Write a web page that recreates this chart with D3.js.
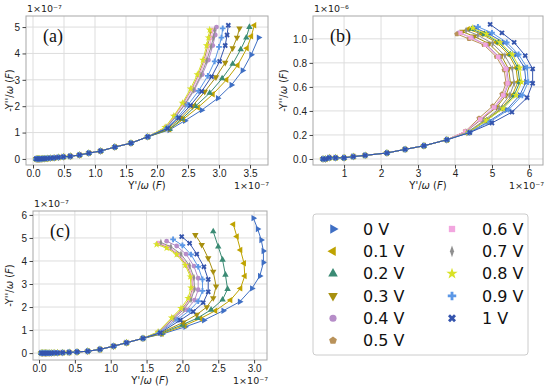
<!DOCTYPE html>
<meta charset="utf-8">
<style>
body { margin: 0; padding: 0; background: #fff; }
svg { font-family: "DejaVu Sans", sans-serif; }
.grid line { stroke: #dddddd; stroke-width: 1; }
.axis .domain { display: none; }
.axis line { stroke: #444; }
.axis text { font-size: 10px; fill: #222; }
.frame { fill: none; stroke: #a8a8a8; stroke-width: 1; }
.lbl { font-size: 10px; fill: #222; }
.off { font-size: 9.5px; fill: #222; }
.panel { font-family: "Liberation Serif", serif; font-size: 18px; fill: #111; }
.leg text { font-size: 16px; fill: #111; }
</style>
<svg width="550" height="390"></svg>
<script src="https://d3js.org/d3.v7.min.js"></script>
<script>

var voltages = ["0 V", "0.1 V", "0.2 V", "0.3 V", "0.4 V", "0.5 V", "0.6 V", "0.7 V", "0.8 V", "0.9 V", "1 V"];
var colors = ["#3f6fc4", "#bfa300", "#3b8b74", "#a8900f", "#b68dc8", "#b9925a", "#f2a6df", "#8f8f8f", "#d9e226", "#5b97e6", "#3454ad"];

// panel (a): x in 1e-7 F, y in 1e-7 F
var ticksAx = [0, 0.5, 1, 1.5, 2, 2.5, 3, 3.5];
var ticksAy = [0, 1, 2, 3, 4, 5];
var lowA = [[0.05,0],[0.07,0],[0.09,0],[0.11,0],[0.13,0],[0.16,0.01],[0.19,0.01],[0.23,0.02],[0.28,0.03],[0.34,0.04],[0.41,0.06],[0.49,0.08],[0.6,0.1],[0.75,0.15],[0.9,0.22],[1.09,0.3],[1.32,0.45],[1.58,0.6],[1.85,0.84]];
var hiA = [
  [[2.2,1.1],[2.45,1.45],[2.72,1.85],[2.98,2.3],[3.2,2.8],[3.38,3.35],[3.52,3.95],[3.64,4.6]],
  [[2.2,1.12],[2.42,1.5],[2.66,1.95],[2.9,2.45],[3.12,3.0],[3.3,3.55],[3.45,4.2],[3.52,4.65],[3.57,5.07]],
  [[2.2,1.13],[2.4,1.52],[2.62,2.0],[2.85,2.5],[3.05,3.05],[3.22,3.6],[3.35,4.15],[3.44,4.6],[3.49,5.0]],
  [[2.18,1.15],[2.38,1.55],[2.57,2.0],[2.77,2.55],[2.95,3.1],[3.1,3.65],[3.22,4.2],[3.29,4.6],[3.33,4.95]],
  [[2.15,1.18],[2.3,1.6],[2.45,2.05],[2.6,2.6],[2.73,3.2],[2.83,3.75],[2.9,4.3],[2.94,4.7],[2.96,5.0]],
  [[2.14,1.2],[2.28,1.62],[2.42,2.1],[2.56,2.65],[2.67,3.2],[2.76,3.75],[2.82,4.3],[2.85,4.6],[2.87,4.85]],
  [[2.14,1.2],[2.28,1.62],[2.43,2.1],[2.57,2.65],[2.69,3.2],[2.78,3.75],[2.85,4.3],[2.88,4.6],[2.9,4.9]],
  [[2.15,1.19],[2.3,1.6],[2.45,2.08],[2.59,2.62],[2.71,3.18],[2.8,3.72],[2.87,4.25],[2.91,4.6],[2.93,4.88]],
  [[2.13,1.2],[2.27,1.63],[2.41,2.12],[2.54,2.66],[2.65,3.2],[2.74,3.75],[2.8,4.3],[2.83,4.6],[2.85,4.9]],
  [[2.16,1.17],[2.33,1.58],[2.5,2.05],[2.67,2.58],[2.82,3.15],[2.93,3.7],[3.0,4.25],[3.04,4.6],[3.06,4.95]],
  [[2.17,1.16],[2.35,1.56],[2.54,2.03],[2.72,2.56],[2.88,3.12],[3.01,3.7],[3.1,4.3],[3.13,4.7],[3.15,5.07]]
];

// panel (b): x in 1e-7 F, y in 1e-6 F
var ticksBx = [1, 2, 3, 4, 5, 6];
var ticksBy = [0, 0.2, 0.4, 0.6, 0.8, 1.0];
var lowB = [[0.43,0],[0.5,0],[0.6,0.01],[0.77,0.01],[1.0,0.01],[1.25,0.02],[1.57,0.03],[2.16,0.05],[2.65,0.08],[3.16,0.11],[3.78,0.16]];
var hiB = [
  [[4.38,0.22],[4.9,0.31],[5.4,0.41],[5.75,0.53],[5.92,0.64],[5.88,0.76],[5.65,0.87],[5.32,0.97],[4.92,1.04],[4.55,1.09]],
  [[4.35,0.22],[4.82,0.32],[5.25,0.42],[5.55,0.53],[5.7,0.64],[5.65,0.76],[5.45,0.87],[5.12,0.97],[4.72,1.04],[4.35,1.08]],
  [[4.35,0.22],[4.85,0.32],[5.28,0.42],[5.6,0.53],[5.75,0.64],[5.7,0.76],[5.5,0.87],[5.18,0.97],[4.8,1.04],[4.45,1.08]],
  [[4.3,0.23],[4.72,0.33],[5.12,0.43],[5.38,0.53],[5.5,0.63],[5.45,0.75],[5.25,0.86],[4.92,0.96],[4.52,1.02],[4.2,1.06]],
  [[4.3,0.23],[4.7,0.33],[5.08,0.43],[5.33,0.53],[5.45,0.63],[5.4,0.75],[5.2,0.85],[4.85,0.95],[4.45,1.01],[4.1,1.05]],
  [[4.28,0.23],[4.65,0.34],[5.02,0.44],[5.27,0.54],[5.38,0.63],[5.33,0.74],[5.12,0.85],[4.78,0.95],[4.38,1.0],[4.05,1.04]],
  [[4.28,0.23],[4.68,0.33],[5.05,0.43],[5.3,0.53],[5.42,0.63],[5.37,0.75],[5.16,0.85],[4.82,0.95],[4.42,1.01],[4.15,1.05]],
  [[4.32,0.22],[4.78,0.32],[5.2,0.42],[5.48,0.53],[5.6,0.63],[5.55,0.75],[5.35,0.86],[5.02,0.96],[4.62,1.03],[4.3,1.07]],
  [[4.36,0.22],[4.85,0.32],[5.3,0.42],[5.65,0.53],[5.8,0.64],[5.75,0.76],[5.55,0.87],[5.22,0.97],[4.85,1.04],[4.48,1.09]],
  [[4.39,0.22],[4.95,0.31],[5.45,0.41],[5.82,0.53],[5.98,0.64],[5.95,0.76],[5.72,0.87],[5.4,0.97],[5.0,1.05],[4.62,1.1]],
  [[4.4,0.22],[5.0,0.3],[5.54,0.39],[5.95,0.51],[6.1,0.63],[6.1,0.75],[5.9,0.86],[5.6,0.97],[5.27,1.05],[4.95,1.12]]
];

// panel (c): x in 1e-7 F, y in 1e-7 F
var ticksCx = [0, 0.5, 1, 1.5, 2, 2.5, 3];
var ticksCy = [0, 1, 2, 3, 4, 5, 6];
var lowC = [[0.03,0],[0.05,0],[0.07,0],[0.09,0],[0.11,0],[0.14,0],[0.17,0],[0.21,0.01],[0.26,0.01],[0.33,0.02],[0.42,0.03],[0.53,0.05],[0.68,0.08],[0.85,0.16],[1.04,0.3],[1.22,0.45],[1.45,0.64]];
var hiC = [
  [[1.72,0.83],[2.04,1.14],[2.3,1.43],[2.57,1.84],[2.8,2.23],[2.97,2.81],[3.08,3.35],[3.13,3.93],[3.13,4.43],[3.1,4.91],[3.05,5.39],[2.99,5.86]],
  [[1.71,0.84],[2.03,1.2],[2.25,1.5],[2.46,1.84],[2.67,2.3],[2.81,2.81],[2.87,3.35],[2.86,3.9],[2.81,4.48],[2.76,5.06],[2.71,5.59]],
  [[1.7,0.86],[2.0,1.23],[2.21,1.52],[2.4,1.88],[2.56,2.32],[2.63,2.78],[2.6,3.4],[2.56,4.05],[2.5,4.62],[2.43,5.28]],
  [[1.69,0.87],[2.01,1.33],[2.2,1.67],[2.34,2.0],[2.43,2.39],[2.47,2.9],[2.43,3.54],[2.36,4.12],[2.27,4.7],[2.18,5.13]],
  [[1.68,0.9],[1.9,1.47],[2.06,1.88],[2.17,2.3],[2.22,2.75],[2.22,3.25],[2.16,3.78],[2.05,4.3],[1.92,4.65],[1.78,4.86]],
  [[1.66,0.91],[1.86,1.52],[2.0,1.93],[2.1,2.36],[2.14,2.82],[2.13,3.3],[2.06,3.8],[1.94,4.28],[1.8,4.58],[1.66,4.76]],
  [[1.67,0.9],[1.87,1.5],[2.01,1.92],[2.11,2.35],[2.15,2.8],[2.14,3.3],[2.08,3.8],[1.96,4.28],[1.82,4.6],[1.68,4.78]],
  [[1.67,0.9],[1.88,1.5],[2.02,1.9],[2.12,2.32],[2.17,2.78],[2.16,3.28],[2.1,3.8],[1.98,4.3],[1.84,4.62],[1.7,4.8]],
  [[1.66,0.92],[1.85,1.53],[1.98,1.95],[2.08,2.38],[2.12,2.84],[2.11,3.32],[2.04,3.82],[1.92,4.28],[1.78,4.56],[1.64,4.72]],
  [[1.68,0.89],[1.93,1.45],[2.1,1.85],[2.22,2.25],[2.28,2.7],[2.28,3.2],[2.22,3.75],[2.12,4.28],[2.0,4.68],[1.87,4.94]],
  [[1.69,0.88],[1.97,1.43],[2.15,1.8],[2.29,2.19],[2.36,2.66],[2.36,3.2],[2.3,3.75],[2.2,4.3],[2.1,4.77],[1.99,5.06]]
];

var svg = d3.select("svg");

var pentagon = {
  draw: function(ctx, size) {
    var r = Math.sqrt(size / 2.378);
    for (var i = 0; i < 5; i++) {
      var a = -Math.PI / 2 + i * 2 * Math.PI / 5;
      if (i === 0) ctx.moveTo(r * Math.cos(a), r * Math.sin(a));
      else ctx.lineTo(r * Math.cos(a), r * Math.sin(a));
    }
    ctx.closePath();
  }
};

var shapes = [
  {type: d3.symbolTriangle, rot: 90},
  {type: d3.symbolTriangle, rot: -90},
  {type: d3.symbolTriangle, rot: 0},
  {type: d3.symbolTriangle, rot: 180},
  {type: d3.symbolCircle, rot: 0},
  {type: pentagon, rot: 0},
  {type: d3.symbolSquare, rot: 0},
  {type: d3.symbolDiamond, rot: 0, sx: 0.6},
  {type: d3.symbolStar, rot: 0},
  {type: d3.symbolCross, rot: 0},
  {type: d3.symbolCross, rot: 45}
];

function marker(i, size) {
  return d3.symbol().type(shapes[i].type).size(size)();
}
function markerT(i, x, y) {
  var s = shapes[i];
  return "translate(" + x + "," + y + ") rotate(" + (s.rot || 0) + ") scale(" + (s.sx || 1) + ",1)";
}

function axisLabel(g, text, attrs) {
  var t = g.append("text").attr("class", "lbl").attr("text-anchor", "middle");
  for (var k in attrs) t.attr(k, attrs[k]);
  t.append("tspan").text(text);
  t.append("tspan").attr("font-style", "italic").text("ω");
  t.append("tspan").text(" (");
  t.append("tspan").attr("font-style", "italic").text("F");
  t.append("tspan").text(")");
}

function drawPanel(p) {
  var x = d3.scaleLinear().domain(p.xd).range([p.left, p.right]);
  var y = d3.scaleLinear().domain(p.yd).range([p.bottom, p.top]);
  var g = svg.append("g");

  g.append("g").attr("class", "grid")
    .selectAll("line").data(p.xt).enter().append("line")
      .attr("x1", function(d) { return x(d); }).attr("x2", function(d) { return x(d); })
      .attr("y1", p.top).attr("y2", p.bottom);
  g.append("g").attr("class", "grid")
    .selectAll("line").data(p.yt).enter().append("line")
      .attr("y1", function(d) { return y(d); }).attr("y2", function(d) { return y(d); })
      .attr("x1", p.left).attr("x2", p.right);

  var line = d3.line()
    .x(function(d) { return x(d[0]); })
    .y(function(d) { return y(d[1]); });

  p.hi.forEach(function(h, i) {
    var pts = p.low.concat(h);
    var s = g.append("g");
    s.append("path")
      .attr("d", line(pts))
      .attr("fill", "none")
      .attr("stroke", colors[i])
      .attr("stroke-width", 1);
    s.selectAll("path.m").data(pts).enter().append("path")
      .attr("class", "m")
      .attr("d", marker(i, 18))
      .attr("transform", function(d) { return markerT(i, x(d[0]), y(d[1])); })
      .attr("fill", colors[i]);
  });

  g.append("rect").attr("class", "frame")
    .attr("x", p.left).attr("y", p.top)
    .attr("width", p.right - p.left).attr("height", p.bottom - p.top);

  g.append("g").attr("class", "axis")
    .attr("transform", "translate(0," + p.bottom + ")")
    .call(d3.axisBottom(x).tickValues(p.xt).tickSize(3.5).tickPadding(1.5).tickFormat(d3.format(p.xf)));
  g.append("g").attr("class", "axis")
    .attr("transform", "translate(" + p.left + ",0)")
    .call(d3.axisLeft(y).tickValues(p.yt).tickSize(3.5).tickPadding(2.5).tickFormat(d3.format(p.yf)));

  axisLabel(g, "Y'/", {x: (p.left + p.right) / 2, y: p.bottom + 24});
  axisLabel(g, "-Y''/", {transform: "translate(" + p.ylx + "," + (p.top + p.bottom) / 2 + ") rotate(-90)"});

  // offset texts
  g.append("text").attr("class", "off")
    .attr("x", p.left + 1).attr("y", p.top - 4)
    .text(p.yoff);
  g.append("text").attr("class", "off")
    .attr("x", p.right + 1).attr("y", p.bottom + 24)
    .attr("text-anchor", "end")
    .text("1×10⁻⁷");

  g.append("text").attr("class", "panel")
    .attr("x", p.left + 17).attr("y", p.top + 26)
    .text(p.name);
}

drawPanel({name: "(a)", left: 26, right: 268, top: 16, bottom: 165,
  xd: [-0.113, 3.79], yd: [-0.23, 5.42], xt: ticksAx, yt: ticksAy, xf: ".1f", yf: "d",
  low: lowA, hi: hiA, ylx: 13, yoff: "1×10⁻⁷"});
drawPanel({name: "(b)", left: 313, right: 543, top: 16, bottom: 165,
  xd: [0.16, 6.38], yd: [-0.05, 1.19], xt: ticksBx, yt: ticksBy, xf: "d", yf: ".1f",
  low: lowB, hi: hiB, ylx: 287, yoff: "1×10⁻⁶"});
drawPanel({name: "(c)", left: 33, right: 267, top: 211, bottom: 360,
  xd: [-0.084, 3.18], yd: [-0.30, 6.17], xt: ticksCx, yt: ticksCy, xf: ".1f", yf: "d",
  low: lowC, hi: hiC, ylx: 13, yoff: "1×10⁻⁷"});

// legend
var leg = svg.append("g").attr("class", "leg");
leg.append("rect")
  .attr("x", 313).attr("y", 214).attr("width", 215).attr("height", 141)
  .attr("rx", 3).attr("fill", "#fff").attr("stroke", "#cccccc");

var items = leg.selectAll("g.it").data(voltages).enter().append("g")
  .attr("class", "it")
  .attr("transform", function(d, i) {
    var col = i < 6 ? 0 : 1, row = i < 6 ? i : i - 6;
    return "translate(" + (333 + col * 119) + "," + (229 + row * 22.3) + ")";
  });
items.append("path")
  .attr("d", function(d, i) { return marker(i, 40); })
  .attr("transform", function(d, i) { return markerT(i, 0, 0); })
  .attr("fill", function(d, i) { return colors[i]; });
items.append("text")
  .attr("x", 30).attr("dy", "0.35em")
  .text(function(d) { return d; });

</script>
